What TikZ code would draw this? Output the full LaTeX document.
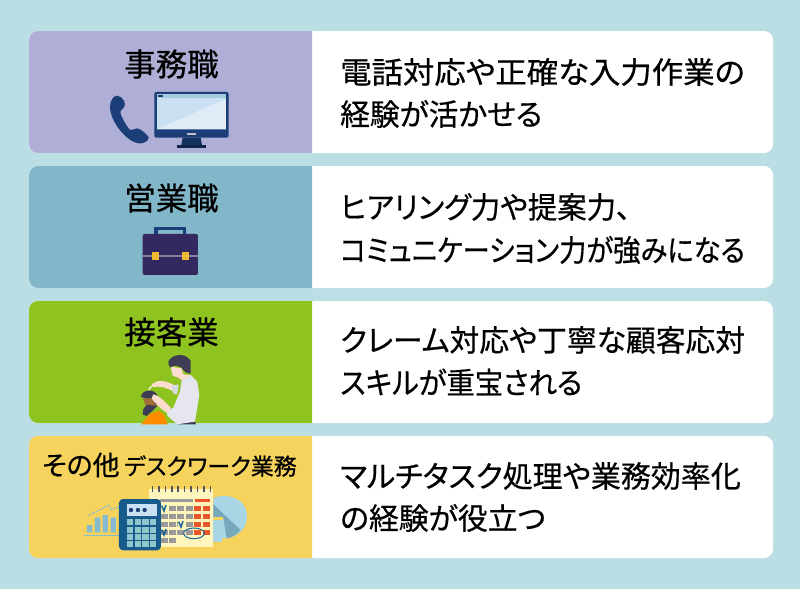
\documentclass[tikz,border=0pt]{standalone}
\usepackage{fontspec}
\newfontfamily\jp[FakeBold=0.5,RawFeature={+palt}]{Noto Sans CJK JP}
\definecolor{bg}{HTML}{BBDEE4}
\definecolor{cA}{HTML}{AEAED6}
\definecolor{cB}{HTML}{82B7CA}
\definecolor{cC}{HTML}{8FC31F}
\definecolor{cD}{HTML}{F6D35C}
\definecolor{navy}{HTML}{1B3E78}
\definecolor{scr}{HTML}{C9DFF2}
\definecolor{plum}{HTML}{33285F}
\definecolor{gold}{HTML}{EDB92E}
\definecolor{skin}{HTML}{FCDDD0}
\definecolor{shirt}{HTML}{E6E6F0}
\definecolor{hair}{HTML}{3F3D56}
\definecolor{calk}{HTML}{8FC7CC}
\definecolor{pale}{HTML}{FFF6BE}
\definecolor{tile}{HTML}{9A9A9A}
\definecolor{redt}{HTML}{E8562A}
\definecolor{sky}{HTML}{A9D6E5}
\definecolor{bar}{HTML}{85BBD0}
\tikzset{
 x=1pt,y=-1pt,
 card/.style={fill=white,rounded corners=9pt},
 panel/.style={rounded corners=9pt},
 title/.style={anchor=center,inner sep=0,font=\jp\fontsize{31.5}{31.5}\selectfont},
 body/.style={anchor=west,inner sep=0,font=\jp\fontsize{30}{30}\selectfont},
 zoomthree/.style={shift={(100,345)},x=.3333pt,y=-.3333pt},
 zoomfour/.style={shift={(75,475)},x=.3333pt,y=-.3333pt},
 zoomone/.style={shift={(30,30)},x=.3333pt,y=-.3333pt},
 zoomtwo/.style={shift={(30,165)},x=.3333pt,y=-.3333pt},
}
\begin{document}
\begin{tikzpicture}
\useasboundingbox (0,0) rectangle (800,589);
\fill[bg] (0,0) rectangle (800,589);
% cards
\foreach \t/\c in {31/cA,166/cB,301/cC,436/cD}{
 \fill[card] (29,\t) rectangle (773,\t+122);
 \begin{scope}
  \clip (29,\t) rectangle (312,\t+122);
  \fill[\c,panel] (29,\t) rectangle (340,\t+122);
 \end{scope}
}
% titles
\node[title] (t1) at (171.5,64) {事務職};
\node[title] (t2) at (171.5,198) {営業職};
\node[title] (t3) at (171.5,332) {接客業};
\node[anchor=west,inner sep=0] (t4) at (42,465) {\jp\fontsize{27}{27}\selectfont その他};
\node[anchor=west,inner sep=0] (t4b) at (124,466) {\jp\fontsize{23}{23}\selectfont デスクワーク業務};
% body text
\node[body] (a1) at (340,72) {\scalebox{1.047}[1]{電話対応や正確な入力作業の}};
\node[body] (a2) at (340,114) {\scalebox{.99}[1]{経験が活かせる}};
\node[body] (b1) at (340,207) {\scalebox{.98}[1]{ヒアリング力や提案力、}};
\node[body] (b2) at (340,250) {\scalebox{.912}[1]{コミュニケーション力が強みになる}};
\node[body] (c1) at (340,340) {\scalebox{.993}[1]{クレーム対応や丁寧な顧客応対}};
\node[body] (c2) at (340,382) {\scalebox{.945}[1]{スキルが重宝される}};
\node[body] (d1) at (340,476) {\scalebox{1.0}[1]{マルチタスク処理や業務効率化}};
\node[body] (d2) at (340,518) {\scalebox{.995}[1]{の経験が役立つ}};
% phone + monitor
\begin{scope}[zoomone]
 \fill[navy] (262,197) .. controls (280,200) and (290,222) .. (282,232)
   .. controls (278,240) and (268,240) .. (272,252)
   .. controls (280,272) and (288,285) .. (298,298)
   .. controls (306,304) and (314,294) .. (322,295)
   .. controls (334,298) and (350,312) .. (356,322)
   .. controls (356,334) and (340,342) .. (325,340)
   .. controls (290,335) and (240,275) .. (240,230)
   .. controls (240,212) and (250,197) .. (262,197) -- cycle;
 \fill[navy,rounded corners=2pt] (373,186) rectangle (596,323);
 \fill[scr] (380,192) rectangle (588,298);
 \fill[scr!60!white] (380,298) -- (588,207) -- (588,298) -- cycle;
 \fill[bar!75!white] (380,192) rectangle (588,204);
 \fill[navy] (384,196) rectangle (400,200);
 \fill[tile!60!white] (470,309) rectangle (498,314);
 \fill[navy!80!black] (458,323) -- (512,323) -- (516,345) -- (454,345) -- cycle;
 \fill[navy!60!black] (442,345) rectangle (528,355);
\end{scope}
% briefcase
\begin{scope}[zoomtwo]
 \draw[navy,line width=3.3pt] (378,215) -- (378,191) -- (463,191) -- (463,215);
 \fill[plum,rounded corners=2pt] (338,330) -- (338,207) -- (504,207) -- (504,330) -- cycle;
 \fill[plum!60!white] (338,269) rectangle (504,275);
 \fill[gold] (367,261) rectangle (388,285);
 \fill[gold] (456,261) rectangle (477,285);
\end{scope}
% hairdresser
\begin{scope}[zoomthree]
 \fill[orange!90!yellow] (124,238) -- (150,207) -- (177,197) -- (192,210) -- (203,238) -- cycle;
 \fill[hair] (232,238) -- (240,230) -- (284,226) -- (288,238) -- cycle;
 \fill[skin] (155,118) .. controls (170,104) and (195,105) .. (222,120) -- (222,140)
   .. controls (200,128) and (180,122) .. (158,126) -- cycle;
 \fill[shirt!80!tile] (214,122) -- (236,118) -- (232,148) -- (220,146) -- cycle;
 \fill[shirt] (245,106) -- (272,90) -- (292,110) -- (298,150) -- (285,230) -- (232,238)
   -- (202,212) -- (200,198) -- (220,188) -- (240,140) -- cycle;
 \fill[skin] (212,65) -- (245,70) -- (250,88) -- (272,90) -- (245,106) -- (235,98) -- (218,92) -- cycle;
 \fill[hair] (205,50) .. controls (212,30) and (255,18) .. (272,48) -- (272,85)
   .. controls (262,88) and (250,78) .. (245,68) .. controls (230,62) and (218,58) .. (213,68)
   .. controls (208,66) and (204,58) .. (205,50) -- cycle;
 \fill[brown!85!black] (128,160) -- (162,160) -- (172,185) -- (140,188) -- cycle;
 \fill[hair] (123,155) .. controls (125,135) and (160,128) .. (172,150) -- (178,180) -- (165,178)
   -- (158,160) -- (135,160) -- cycle;
 \fill[hair] (140,180) -- (172,182) -- (160,195) -- (140,213) -- (128,208) -- (130,192) -- cycle;
 \fill[skin] (160,148) .. controls (175,150) and (195,170) .. (212,188) -- (204,205)
   .. controls (185,195) and (165,175) .. (155,160) -- cycle;
 \fill[white!90!shirt] (150,125) -- (158,122) -- (150,133) -- (144,136) -- cycle;
\end{scope}
% office
\begin{scope}[zoomfour]
 \draw[bar,line width=.7pt] (40,122) -- (102,90) -- (108,104) -- (135,95);
 \draw[bar,line width=.8pt] (28,182) -- (135,182);
 \fill[bar] (36,150) rectangle (52,172) (60,128) rectangle (76,172) (83,120) rectangle (99,172) (107,128) rectangle (123,172);
 % pie
 \fill[sky] (415,70) .. controls (440,55) and (516,60) .. (516,127) .. controls (516,165) and (480,192) .. (442,190) -- (415,190) -- cycle;
 \fill[bar!90!black] (415,88) -- (497,165) .. controls (485,180) and (470,188) .. (455,190) -- (445,130) -- (415,127) -- cycle;
 \fill[cD] (415,127) rectangle (445,135);
 \fill[sky] (415,135) rectangle (442,200);
 % calendar
 \fill[pale] (222,42) rectangle (415,215);
 \foreach \i in {0,...,9}{\fill[tile!55!black] (230+19.3*\i,33) rectangle (235+19.3*\i,52);}
 \fill[tile] (255,73) rectangle (355,80);
 \fill[redt] (360,73) rectangle (405,80);
 \foreach \r in {92,116,140,164}{
  \foreach \cc in {282,307,333}{\fill[tile] (\cc,\r) rectangle (\cc+20,\r+17);}
  \foreach \cc in {358,384}{\fill[redt] (\cc,\r) rectangle (\cc+20,\r+17);}
 }
 \foreach \cc in {258,282}{\fill[tile] (\cc,188) rectangle (\cc+20,205);}
 \foreach \r in {116,140,164}{\fill[tile] (258,\r) rectangle (278,\r+17);}
 \fill[pale] (308,140) rectangle (328,157);
 \foreach \p in {(268,100),(319,148),(268,172)}{
  \draw[navy!80!cyan,line width=1.5pt] \p ++(-8,-8) -- ++(7,16) -- ++(6,-18);}
 \draw[navy!80!cyan,line width=1pt] (357,175) ellipse [x radius=31,y radius=16];
 % calculator
 \fill[navy!85!cyan,rounded corners=4pt] (132,72) rectangle (258,226);
 \fill[scr] (155,88) rectangle (245,122);
 \foreach \cc in {168,189,209}{\fill[navy] (\cc,105) circle [radius=6.5];}
 \foreach \r in {133,155,177,198}{
  \foreach \cc in {156,179,202,225}{\fill[calk] (\cc,\r) rectangle (\cc+19,\r+18);}
 }
\end{scope}
\end{tikzpicture}
\end{document}
